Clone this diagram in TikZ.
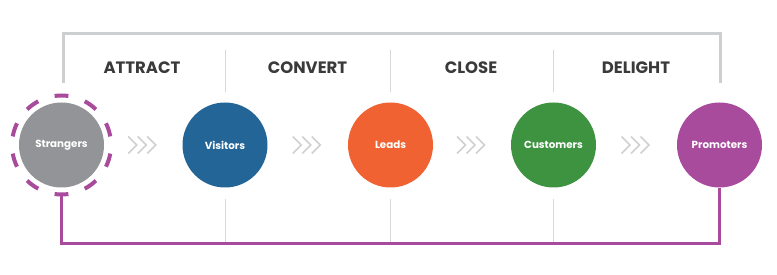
\documentclass[tikz,border=0pt]{standalone}
\usepackage{fontspec}
\setmainfont{Poppins}
\usetikzlibrary{calc}
\definecolor{cgray}{HTML}{929497}
\definecolor{cblue}{HTML}{236597}
\definecolor{corange}{HTML}{F06232}
\definecolor{cgreen}{HTML}{3D9340}
\definecolor{cpurple}{HTML}{A84B9C}
\definecolor{cbracket}{HTML}{CBCFCF}
\definecolor{cdiv}{HTML}{D8D8D8}
\definecolor{cchev}{HTML}{D0D0D0}
\definecolor{ctext}{HTML}{3A3A3A}
\tikzset{
  stage/.style={circle, minimum size=85pt, inner sep=0pt, text=white,
    font=\fontsize{10.3}{12}\selectfont\bfseries},
  phase/.style={text=ctext, font=\fontsize{16.5}{19}\selectfont\bfseries},
  bracket/.style={draw=cbracket, line width=3pt},
  divider/.style={draw=cdiv, line width=1pt},
  loopline/.style={draw=cpurple, line width=3pt},
  ring/.style={draw=cpurple, line width=4pt},
  chev/.style={draw=cchev, line width=1.6pt},
}
\begin{document}
\begin{tikzpicture}[x=1pt,y=-1pt]
\useasboundingbox (0,0) rectangle (777,275);
% stages
\node[stage, fill=cgray]   (s) at (61.5,145) {Strangers};
\node[stage, fill=cblue]   (v) at (225,145) {Visitors};
\node[stage, fill=corange] (l) at (390.5,145) {Leads};
\node[stage, fill=cgreen]  (c) at (553.5,145) {Customers};
\node[stage, fill=cpurple] (p) at (719.5,145) {Promoters};
% dashed ring
\foreach \a in {18,54,...,342}{
  \draw[ring] ([shift={(\a-8:49.5)}]s.center) arc[start angle=\a-8, end angle=\a+8, radius=49.5];
}
% phase labels
\node[phase] (t1) at (142,68) {ATTRACT};
\node[phase] (t2) at (307.5,68) {CONVERT};
\node[phase] (t3) at (471,68) {CLOSE};
\node[phase] (t4) at (636,68) {DELIGHT};
% top bracket
\coordinate (bl) at (63,83);
\coordinate (br) at (720,83);
\draw[bracket] (bl) -- (63,34) -- (720,34) -- (br);
% dividers
\foreach \x/\n in {225/1,390/2,553/3}{
  \coordinate (dt\n a) at (\x,50);
  \coordinate (dt\n b) at (\x,92);
  \coordinate (db\n a) at (\x,199);
  \coordinate (db\n b) at (\x,242);
  \draw[divider] (dt\n a) -- (dt\n b);
  \draw[divider] (db\n a) -- (db\n b);
}
% bottom loop
\coordinate (sl) at (61.5,193);
\draw[loopline] (sl) -- (61.5,244) -- (p.south |- 0,244) -- (p.south);
% chevrons
\foreach \a/\b in {s/v,v/l,l/c,c/p}{
  \coordinate (m) at ($(\a.east)!0.5!(\b.west)$);
  \foreach \d in {-15,-5.5,4}{
    \draw[chev] ($(m)+(\d,-8.5)$) -- ($(m)+(\d+8.5,0)$) -- ($(m)+(\d,8.5)$);
  }
}
\end{tikzpicture}
\end{document}
